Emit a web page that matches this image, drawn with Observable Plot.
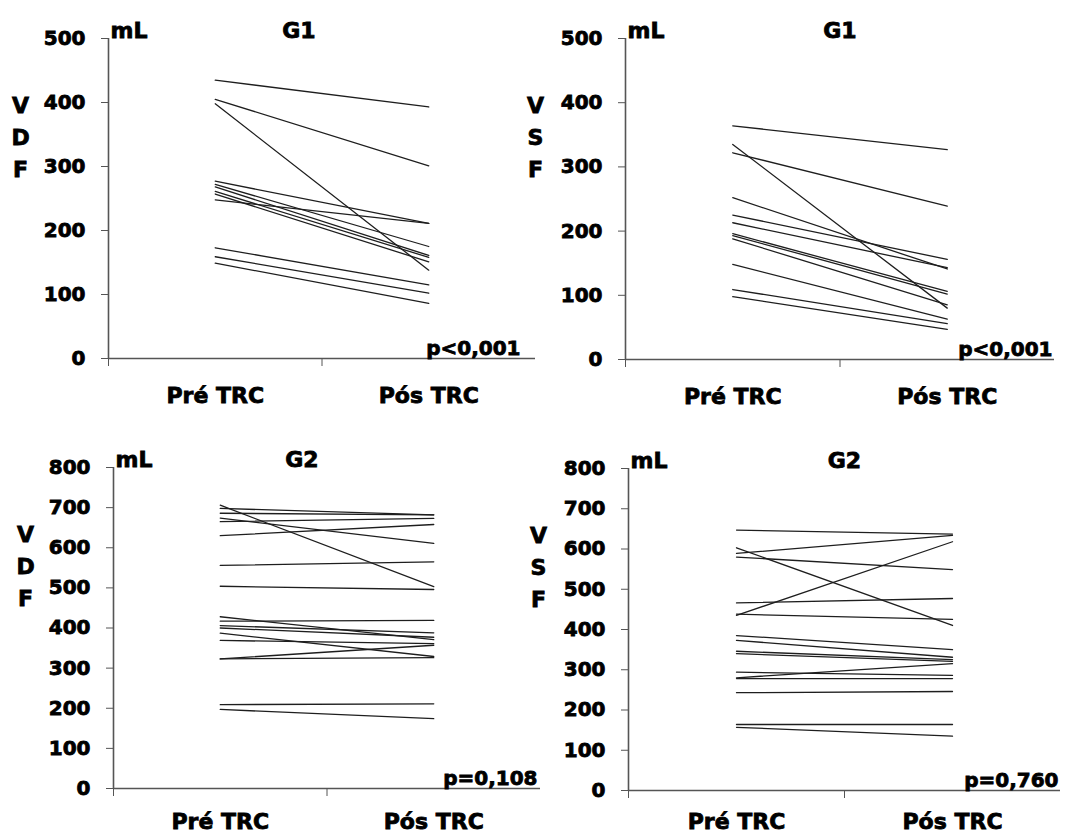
<!DOCTYPE html>
<html><head><meta charset="utf-8">
<script src="https://cdn.jsdelivr.net/npm/d3@7"></script>
<script src="https://cdn.jsdelivr.net/npm/@observablehq/plot@0.6"></script>
<style>
body{margin:0;background:#fff;}
#wrap{position:relative;width:1076px;height:838px;overflow:hidden;background:#fff;}
.panel{position:absolute;}
.panel svg{overflow:visible;}
.panel text{stroke:#000;stroke-width:0.8px;paint-order:stroke;}
</style></head><body><div id="wrap"></div>
<script>
// ---- data ----
const categories = ["Pré TRC", "Pós TRC"];
const unitLabel = "mL";

const vdfG1Pre  = [435, 405, 398, 277, 272, 268, 261, 257, 248, 173, 159, 149];
const vdfG1Post = [393, 301, 138, 211, 175, 161, 158, 151, 211, 115, 102, 86];

const vsfG1Pre  = [364, 335, 322, 252, 225, 213, 196, 193, 188, 148, 109, 98];
const vsfG1Post = [327, 80, 239, 141, 156, 143, 106, 102, 85, 63, 56, 47];

const vdfG2Pre  = [706, 698, 686, 674, 665, 630, 556, 504, 428, 417, 406, 400, 387, 369, 323, 323, 209, 197];
const vdfG2Post = [503, 682, 682, 611, 673, 658, 565, 496, 371, 419, 388, 377, 329, 361, 326, 357, 211, 174];

const vsfG2Pre  = [647, 603, 589, 580, 466, 438, 435, 385, 373, 346, 340, 294, 280, 278, 243, 164, 157];
const vsfG2Post = [637, 410, 634, 549, 477, 425, 618, 350, 331, 325, 321, 286, 315, 278, 246, 164, 135];

const yTicksG1 = [0, 100, 200, 300, 400, 500];
const yTicksG2 = [0, 100, 200, 300, 400, 500, 600, 700, 800];

const groupLabels = ["G1", "G1", "G2", "G2"];
const variableLabels = ["VDF", "VSF", "VDF", "VSF"];
const pValues = ["p<0,001", "p<0,001", "p=0,108", "p=0,760"];

const seriesPre  = [vdfG1Pre, vsfG1Pre, vdfG2Pre, vsfG2Pre];
const seriesPost = [vdfG1Post, vsfG1Post, vdfG2Post, vsfG2Post];
const yTicksAll  = [yTicksG1, yTicksG1, yTicksG2, yTicksG2];

// ---- layout ----
const layout = [
  {left: 0,   top: 0,   width: 540, height: 420, ml: 108, mr: 5,  mt: 38, mb: 62, gDx: -23, pDx: -15, vDx: -88, xPad: 29},
  {left: 540, top: 0,   width: 536, height: 420, ml: 85,  mr: 22, mt: 38, mb: 61, gDx: 0,   pDx: -2,  vDx: -90, xPad: 29},
  {left: 0,   top: 420, width: 542, height: 418, ml: 113, mr: 2,  mt: 47, mb: 50, gDx: -25, pDx: -3,  vDx: -88, xPad: 25},
  {left: 540, top: 420, width: 536, height: 418, ml: 88,  mr: 16, mt: 48, mb: 48, gDx: 0,   pDx: -2,  vDx: -90, xPad: 23}
];

const wrap = document.getElementById("wrap");
const ink = "#000";
const axisInk = "#555";
const lineInk = "#1e1e1e";

layout.forEach((L, p) => {
  const pre = seriesPre[p], post = seriesPost[p], ticks = yTicksAll[p];
  const rows = pre.flatMap((v, i) => [
    {id: i, x: 0 + 0.5, v: v},
    {id: i, x: 1 + 0.5, v: post[i]}
  ]);
  const yMax = d3.max(ticks);
  const chart = Plot.plot({
    width: L.width, height: L.height,
    marginLeft: L.ml, marginRight: L.mr, marginTop: L.mt, marginBottom: L.mb,
    x: {domain: [0, categories.length], axis: null},
    y: {domain: [0, yMax], axis: null},
    style: {fontFamily: "'DejaVu Sans', sans-serif", fontWeight: "bold", fontSize: "20px", color: ink, background: "transparent", overflow: "visible"},
    marks: [
      Plot.line(rows, {x: "x", y: "v", z: "id", stroke: lineInk, strokeWidth: 1.3}),
      Plot.ruleY([0], {stroke: axisInk, strokeWidth: 1.6}),
      Plot.ruleX([0], {stroke: axisInk, strokeWidth: 1.6}),
      Plot.axisY(ticks, {label: null, tickSize: 7, tickPadding: 16, stroke: axisInk, fill: ink, fontSize: 20, fontWeight: "bold"}),
      Plot.axisX(d3.range(categories.length), {label: null, tickSize: 8, tickFormat: () => "", stroke: axisInk}),
      Plot.axisX(categories.map((c, i) => i + 0.5), {label: null, tickSize: 0, tickPadding: L.xPad, tickFormat: d => categories[Math.floor(d)], fill: ink, fontSize: 22, fontWeight: "bold"}),
      Plot.text([unitLabel], {text: d => d, frameAnchor: "top-left", textAnchor: "start", lineAnchor: "bottom", dx: 2, dy: -1, fontSize: 22, fontWeight: "bold", fill: ink}),
      Plot.text([groupLabels[p]], {text: d => d, frameAnchor: "top", textAnchor: "middle", lineAnchor: "bottom", dx: L.gDx, dy: -1, fontSize: 22, fontWeight: "bold", fill: ink}),
      Plot.text([pValues[p]], {text: d => d, frameAnchor: "bottom-right", textAnchor: "end", lineAnchor: "bottom", dx: L.pDx, dy: -4, fontSize: 20, fontWeight: "bold", fill: ink}),
      Plot.text([variableLabels[p].split("").join("\n")], {text: d => d, frameAnchor: "top-left", textAnchor: "middle", lineAnchor: "top", lineHeight: 1.45, dx: L.vDx, dy: 52, fontSize: 22, fontWeight: "bold", fill: ink})
    ]
  });
  const div = document.createElement("div");
  div.className = "panel";
  div.style.left = L.left + "px";
  div.style.top = L.top + "px";
  div.appendChild(chart);
  wrap.appendChild(div);
});
</script></body></html>
